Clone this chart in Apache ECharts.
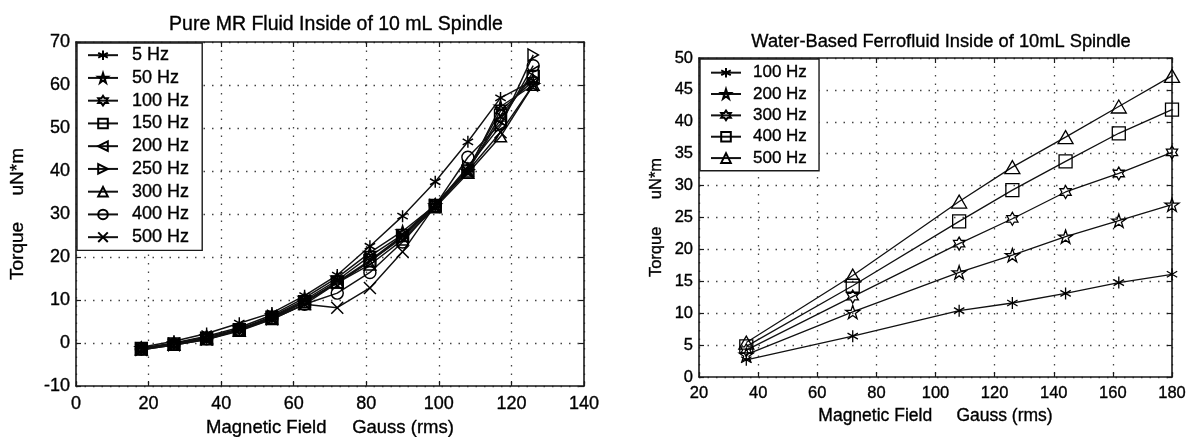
<!DOCTYPE html>
<html>
<head>
<meta charset="utf-8">
<script src="https://cdn.jsdelivr.net/npm/echarts@6/dist/echarts.min.js"></script>
<style>html,body{margin:0;padding:0;background:#fff;}#c{width:1198px;height:437px;}</style>
</head>
<body>
<div id="c"></div>
<script>
// ---------- Data: left chart (Pure MR Fluid) ----------
const leftX = [18, 27, 36, 45, 54, 63, 72, 81, 90, 99, 108, 117, 126];
const left5Hz   = [-1.0, 0.4, 2.2, 4.6, 7.0, 11.0, 15.8, 22.5, 29.5, 37.5, 46.8, 57.0, 61.0];
const left50Hz  = [-1.2, 0.0, 1.6, 3.6, 6.5, 10.5, 15.2, 21.0, 26.0, 32.0, 40.0, 55.0, 60.0];
const left100Hz = [-1.3, -0.1, 1.4, 3.3, 6.2, 10.0, 14.6, 20.2, 25.2, 32.2, 40.5, 54.0, 61.0];
const left150Hz = [-1.3, -0.2, 1.1, 3.1, 6.0, 9.6, 14.2, 19.2, 25.0, 32.0, 40.0, 53.0, 62.0];
const left200Hz = [-1.4, -0.3, 1.0, 3.0, 6.0, 9.5, 14.0, 19.0, 24.8, 32.0, 40.2, 52.0, 63.0];
const left250Hz = [-1.4, -0.3, 1.0, 3.0, 5.8, 9.5, 14.0, 19.0, 24.5, 32.0, 41.0, 50.5, 67.0];
const left300Hz = [-1.6, -0.5, 0.8, 2.8, 5.5, 9.0, 14.0, 18.2, 24.0, 31.5, 39.5, 48.0, 60.0];
const left400Hz = [-1.4, -0.3, 1.0, 3.0, 5.8, 9.0, 11.6, 16.4, 23.5, 32.0, 43.2, 51.0, 64.5];
const left500Hz = [-1.6, -0.5, 0.8, 3.0, 5.5, 9.0, 8.2, 12.8, 21.2, 32.0, 40.0, 49.0, 60.0];
const leftNames = ['5 Hz', '50 Hz', '100 Hz', '150 Hz', '200 Hz', '250 Hz', '300 Hz', '400 Hz', '500 Hz'];
const leftXTicks = [0, 20, 40, 60, 80, 100, 120, 140];
const leftYTicks = [-10, 0, 10, 20, 30, 40, 50, 60, 70];

// ---------- Data: right chart (Water-Based Ferrofluid) ----------
const rightX = [36, 72, 108, 126, 144, 162, 180];
const right100Hz = [2.7, 6.4, 10.4, 11.6, 13.1, 14.8, 16.1];
const right200Hz = [3.5, 10.2, 16.4, 19.1, 22.0, 24.5, 27.0];
const right300Hz = [4.2, 12.6, 20.9, 24.8, 29.0, 31.9, 35.2];
const right400Hz = [4.8, 14.3, 24.4, 29.3, 33.8, 38.2, 41.9];
const right500Hz = [5.4, 15.9, 27.5, 32.9, 37.6, 42.4, 47.2];
const rightNames = ['100 Hz', '200 Hz', '300 Hz', '400 Hz', '500 Hz'];
const rightXTicks = [20, 40, 60, 80, 100, 120, 140, 160, 180];
const rightYTicks = [0, 5, 10, 15, 20, 25, 30, 35, 40, 45, 50];

const titleLeft = 'Pure MR Fluid Inside of 10 mL Spindle';
const titleRight = 'Water-Based Ferrofluid Inside of 10mL Spindle';
const xName = 'Magnetic Field     Gauss (rms)';
const yNameLeft = 'Torque     uN*m';
const yNameRight = 'Torque      uN*m';

// ---------- Marker shapes ----------
const SYM = {
  asterisk: 'path://M5,0L5,10M0.67,2.5L9.33,7.5M0.67,7.5L9.33,2.5',
  star: 'path://M0,-1L0.2245,-0.309L0.951,-0.309L0.363,0.118L0.588,0.809L0,0.382L-0.588,0.809L-0.363,0.118L-0.951,-0.309L-0.2245,-0.309Z',
  hexagram: 'path://M0,-1L0.2887,-0.5L0.866,-0.5L0.577,0L0.866,0.5L0.2887,0.5L0,1L-0.2887,0.5L-0.866,0.5L-0.577,0L-0.866,-0.5L-0.2887,-0.5Z',
  square: 'path://M0,0L10,0L10,10L0,10Z',
  tleft: 'path://M0,5L8.66,0L8.66,10Z',
  tright: 'path://M8.66,5L0,0L0,10Z',
  tup: 'path://M5,0L10,8.66L0,8.66Z',
  circle: 'circle',
  x: 'path://M0,0L10,10M0,10L10,0'
};
const leftSyms = [SYM.asterisk, SYM.star, SYM.hexagram, SYM.square, SYM.tleft, SYM.tright, SYM.tup, SYM.circle, SYM.x];
const rightSyms = [SYM.asterisk, SYM.star, SYM.hexagram, SYM.square, SYM.tup];
const rightSizes = [12, 14, 13, 13, 15];

const FONT = 'Liberation Sans';
const INK = '#000';
const TXT = { textBorderColor: '#000', textBorderWidth: 0.35 };
const leftSeriesData = [left5Hz, left50Hz, left100Hz, left150Hz, left200Hz, left250Hz, left300Hz, left400Hz, left500Hz];
const rightSeriesData = [right100Hz, right200Hz, right300Hz, right400Hz, right500Hz];

function mkSeries(name, xs, ys, sym, size, xi, yi, w) {
  return {
    type: 'line', name: name, xAxisIndex: xi, yAxisIndex: yi,
    data: xs.map((x, i) => [x, ys[i]]),
    symbol: sym, symbolSize: size, symbolKeepAspect: true,
    showAllSymbol: true, animation: false,
    color: '#000',
    lineStyle: { color: '#111', width: w },
    itemStyle: { color: 'rgba(255,255,255,0)', borderColor: '#000', borderWidth: w },
    emphasis: { disabled: true }
  };
}

const series = [];
leftNames.forEach((n, i) => series.push(mkSeries(n, leftX, leftSeriesData[i], leftSyms[i], 12, 0, 0, 1.45)));
rightNames.forEach((n, i) => series.push(mkSeries('R' + n, rightX, rightSeriesData[i], rightSyms[i], rightSizes[i], 2, 2, 1.3)));

function axisPair(gridIndex, ticks, isX, fontSize, labelMargin, name, nameGap, nameSize) {
  const min = ticks[0], max = ticks[ticks.length - 1], interval = ticks[1] - ticks[0];
  const common = {
    gridIndex: gridIndex, type: 'value', min: min, max: max, interval: interval,
    axisLine: { show: true, onZero: false, lineStyle: { color: '#1a1a1a', width: 1.6 } },
    axisTick: { show: true, inside: true, length: 5, lineStyle: { color: '#1a1a1a', width: 1.2 } }
  };
  const primary = Object.assign({}, common, {
    position: isX ? 'bottom' : 'left',
    axisLabel: Object.assign({ show: true, color: INK, fontFamily: FONT, fontSize: fontSize, margin: labelMargin }, TXT),
    splitLine: { show: true, lineStyle: { color: '#444', width: 1.3, type: [1.5, 7] } },
    name: name, nameLocation: 'middle', nameGap: nameGap,
    nameRotate: isX ? 0 : 90,
    nameTextStyle: Object.assign({ color: INK, fontFamily: FONT, fontSize: nameSize }, TXT)
  });
  const secondary = Object.assign({}, common, {
    position: isX ? 'top' : 'right',
    axisLabel: { show: false }, splitLine: { show: false }
  });
  return [primary, secondary];
}

const xL = axisPair(0, leftXTicks, true, 18, 9, xName, 32, 18.5);
const yL = axisPair(0, leftYTicks, false, 18, 6, yNameLeft, 49, 19);
const xR = axisPair(1, rightXTicks, true, 16.5, 8, xName, 29, 17.5);
const yR = axisPair(1, rightYTicks, false, 16.5, 6, yNameRight, 34, 16.5);

const option = {
  backgroundColor: '#fff',
  animation: false,
  title: [
    { text: titleLeft, left: 331, top: 10, textAlign: 'center',
      textStyle: Object.assign({ fontFamily: FONT, fontSize: 19.5, fontWeight: 'normal', color: INK }, TXT) },
    { text: titleRight, left: 936, top: 28, textAlign: 'center',
      textStyle: Object.assign({ fontFamily: FONT, fontSize: 18.3, fontWeight: 'normal', color: INK }, TXT) }
  ],
  grid: [
    { left: 76, top: 42, width: 508, height: 344, outerBoundsMode: 'none', containLabel: false },
    { left: 699, top: 58, width: 473, height: 319, outerBoundsMode: 'none', containLabel: false }
  ],
  xAxis: [xL[0], xL[1], xR[0], xR[1]],
  yAxis: [yL[0], yL[1], yR[0], yR[1]],
  legend: [
    { data: leftNames, orient: 'vertical', left: 77, top: 43,
      backgroundColor: '#fff', borderColor: '#1a1a1a', borderWidth: 1.4,
      padding: [3, 13, 4, 10], itemWidth: 30, itemHeight: 12, itemGap: 4.4,
      selectedMode: false,
      textStyle: Object.assign({ fontFamily: FONT, fontSize: 18, color: INK, padding: [0, 0, 0, 9] }, TXT) },
    { data: rightNames.map(n => 'R' + n), orient: 'vertical', left: 700, top: 59,
      formatter: n => n.slice(1),
      backgroundColor: '#fff', borderColor: '#1a1a1a', borderWidth: 1.4,
      padding: [5, 12, 4, 10], itemWidth: 30, itemHeight: 12, itemGap: 4,
      selectedMode: false,
      textStyle: Object.assign({ fontFamily: FONT, fontSize: 17, color: INK, padding: [0, 0, 0, 7] }, TXT) }
  ],
  series: series
};

const chart = echarts.init(document.getElementById('c'), null, { renderer: 'canvas' });
chart.setOption(option);
</script>
</body>
</html>
